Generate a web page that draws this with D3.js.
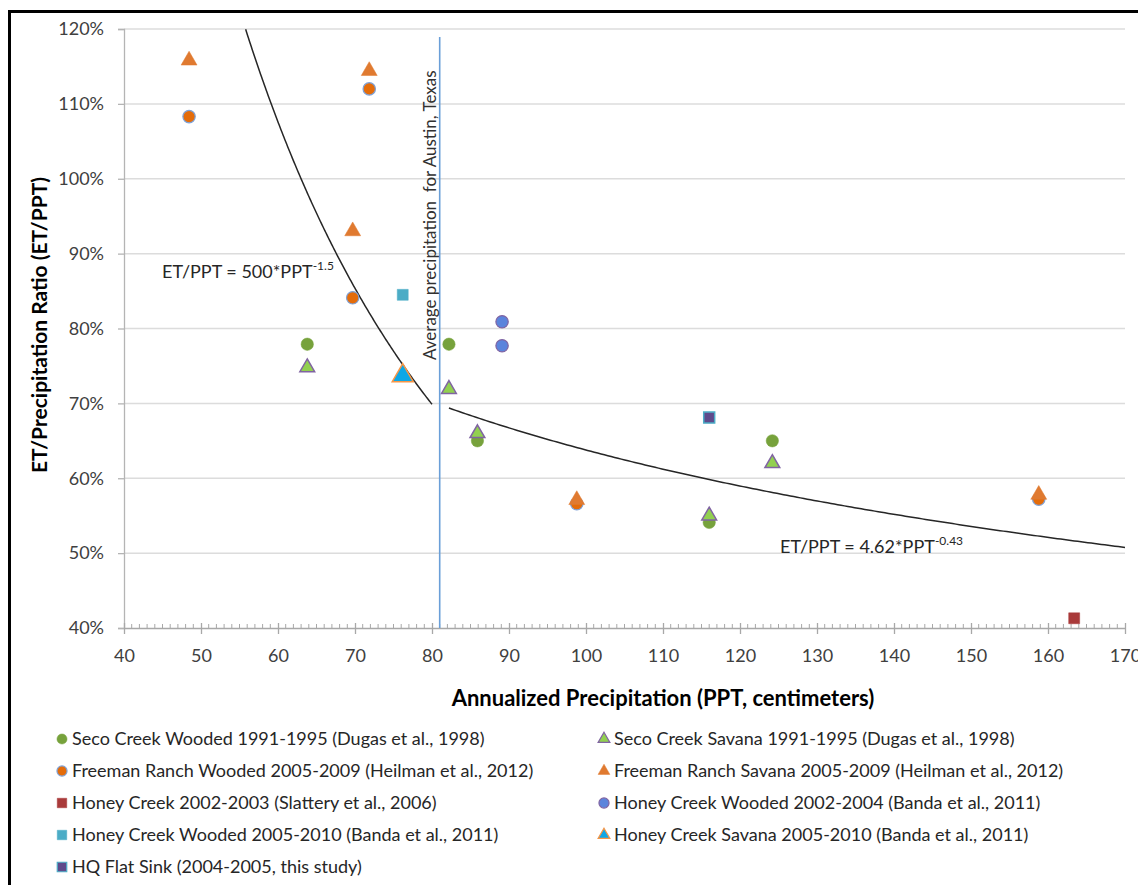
<!DOCTYPE html>
<html><head><meta charset="utf-8">
<script src="https://cdn.jsdelivr.net/npm/d3@7"></script>
<style>
body{margin:0;background:#fff;}
svg{display:block;}
text{font-family:Lato,'Open Sans',sans-serif;}
</style>
</head><body>
<svg id="c" width="1138" height="885"></svg>
<script>
// ---------- data ----------
const xTicks = [40,50,60,70,80,90,100,110,120,130,140,150,160,170];
const yTicks = [40,50,60,70,80,90,100,110,120];
const yTickLabels = ["40%","50%","60%","70%","80%","90%","100%","110%","120%"];

const seriesNames = [
  "Seco Creek Wooded 1991-1995 (Dugas et al., 1998)",
  "Seco Creek Savana 1991-1995 (Dugas et al., 1998)",
  "Freeman Ranch Wooded 2005-2009 (Heilman et al., 2012)",
  "Freeman Ranch Savana 2005-2009 (Heilman et al., 2012)",
  "Honey Creek 2002-2003 (Slattery et al., 2006)",
  "Honey Creek Wooded 2002-2004 (Banda et al., 2011)",
  "Honey Creek Wooded 2005-2010 (Banda et al., 2011)",
  "Honey Creek Savana 2005-2010 (Banda et al., 2011)",
  "HQ Flat Sink (2004-2005, this study)"
];
const secoWoodedX   = [63.8, 82.2, 85.9, 116.0, 124.2];
const secoWoodedY   = [77.9, 77.9, 65.0, 54.1, 65.0];
const secoSavanaX   = [63.8, 82.2, 85.9, 116.0, 124.2];
const secoSavanaY   = [74.8, 71.9, 66.0, 55.0, 62.0];
const freemanWoodedX = [48.45, 69.7, 71.85, 98.8, 158.8];
const freemanWoodedY = [108.3, 84.1, 112.0, 56.6, 57.2];
const freemanSavanaX = [48.45, 69.7, 71.85, 98.8, 158.8];
const freemanSavanaY = [115.8, 93.0, 114.4, 57.1, 57.8];
const honey0203X = [163.4];
const honey0203Y = [41.3];
const honeyWooded0204X = [89.1, 89.1];
const honeyWooded0204Y = [80.9, 77.7];
const honeyWooded0510X = [76.2];
const honeyWooded0510Y = [84.5];
const honeySavana0510X = [76.2];
const honeySavana0510Y = [73.7];
const hqFlatX = [116.0];
const hqFlatY = [68.1];

// trendlines (from the equations printed on the chart), ET/PPT in %
const trend1 = {coef: 50000, exp: -1.5, from: 55.8, to: 80};
const trend2 = {coef: 462, exp: -0.43, from: 82.2, to: 170};
const austinPPT = 81;

// ---------- styles ----------
const styles = [
  {shape:d3.symbolCircle,   size:120, fill:"#77a23c", stroke:"#77a23c", sw:0.5},
  {shape:d3.symbolTriangle, size:95,  fill:"#92d050", stroke:"#8064a2", sw:1.5},
  {shape:d3.symbolCircle,   size:120, fill:"#e46c0a", stroke:"#7ea1d6", sw:1.2},
  {shape:d3.symbolTriangle, size:110, fill:"#e07a30", stroke:"#e07a30", sw:0.5},
  {shape:d3.symbolSquare,   size:120, fill:"#a93a3a", stroke:"#a93a3a", sw:0.5},
  {shape:d3.symbolCircle,   size:120, fill:"#5b84dc", stroke:"#8064a2", sw:1.2},
  {shape:d3.symbolSquare,   size:120, fill:"#4bacc6", stroke:"#4bacc6", sw:0.5},
  {shape:d3.symbolTriangle, size:190, fill:"#0ea7e6", stroke:"#f79646", sw:1.5},
  {shape:d3.symbolSquare,   size:120, fill:"#5f4a8b", stroke:"#4bacc6", sw:1.5}
];
const legendSizes = [80, 60, 80, 60, 90, 80, 90, 60, 90];

const seriesX = [secoWoodedX, secoSavanaX, freemanWoodedX, freemanSavanaX, honey0203X, honeyWooded0204X, honeyWooded0510X, honeySavana0510X, hqFlatX];
const seriesY = [secoWoodedY, secoSavanaY, freemanWoodedY, freemanSavanaY, honey0203Y, honeyWooded0204Y, honeyWooded0510Y, honeySavana0510Y, hqFlatY];

// ---------- layout ----------
const svg = d3.select("#c");
const x = d3.scaleLinear().domain([40,170]).range([124,1125]);
const y = d3.scaleLinear().domain([40,120]).range([628,29]);
const tickColor = "#404040";
const FONT = "Lato,'Open Sans',sans-serif";

// frame
svg.append("line").attr("x1",9.5).attr("x2",9.5).attr("y1",10).attr("y2",885).attr("stroke","#000").attr("stroke-width",3);
svg.append("line").attr("x1",8).attr("x2",1138).attr("y1",11.5).attr("y2",11.5).attr("stroke","#000").attr("stroke-width",3);

// gridlines
svg.append("g").selectAll("line").data(yTicks.filter(d=>d>40)).join("line")
  .attr("x1",x(40)).attr("x2",x(170)).attr("y1",d=>y(d)).attr("y2",d=>y(d))
  .attr("stroke","#dcdcdc").attr("stroke-width",1.5);

// y axis
const yAxis = svg.append("g").attr("transform",`translate(${x(40)},0)`)
  .call(d3.axisLeft(y).tickValues(yTicks).tickFormat((d,i)=>yTickLabels[i]).tickSize(6).tickPadding(14));
yAxis.select(".domain").attr("stroke","#b4b4b4").attr("stroke-width",1.3);
yAxis.selectAll(".tick line").attr("stroke","#b4b4b4").attr("stroke-width",1.3);
yAxis.selectAll("text").attr("font-size",18).attr("fill",tickColor).style("font-family",FONT);

// x axis minor ticks
const minor = d3.range(40,171,1).filter(d=>d%10!==0);
svg.append("g").selectAll("line").data(minor).join("line")
  .attr("x1",d=>x(d)).attr("x2",d=>x(d)).attr("y1",y(40)-4).attr("y2",y(40))
  .attr("stroke","#a8a8a8").attr("stroke-width",1);
// x axis
const xAxis = svg.append("g").attr("transform",`translate(0,${y(40)})`)
  .call(d3.axisBottom(x).tickValues(xTicks).tickFormat(d3.format("d")).tickSizeInner(6).tickSizeOuter(0).tickPadding(15));
xAxis.select(".domain").attr("stroke","#a8a8a8").attr("stroke-width",1.3);
xAxis.selectAll(".tick line").attr("stroke","#a8a8a8").attr("stroke-width",1.3).attr("y1",-5);
xAxis.selectAll("text").attr("font-size",18).attr("fill",tickColor).style("font-family",FONT);

// Austin line
svg.append("line").attr("x1",x(austinPPT)).attr("x2",x(austinPPT)).attr("y1",37).attr("y2",y(40))
  .attr("stroke","#6a9fd8").attr("stroke-width",1.6);
svg.append("text").attr("transform",`translate(${x(austinPPT)-4},360) rotate(-90)`)
  .attr("font-size",17).attr("fill","#303030").attr("xml:space","preserve")
  .text("Average precipitation  for Austin, Texas");

// trendlines
const line = d3.line().x(d=>x(d[0])).y(d=>y(d[1]));
[trend1, trend2].forEach(t=>{
  const pts = d3.range(0,201).map(i=>{const p=t.from+(t.to-t.from)*i/200; return [p, t.coef*Math.pow(p,t.exp)];});
  svg.append("path").attr("d",line(pts)).attr("fill","none").attr("stroke","#262626").attr("stroke-width",1.5);
});

// equations
function eq(xp, yp, main, sup){
  const t = svg.append("text").attr("x",xp).attr("y",yp).attr("font-size",18).attr("fill","#262626");
  t.append("tspan").text(main);
  t.append("tspan").attr("font-size",12).attr("dy",-8).text(sup);
}
eq(162, 278, "ET/PPT = 500*PPT", "-1.5");
eq(780, 553, "ET/PPT = 4.62*PPT", "-0.43");

// points
const pg = svg.append("g");
seriesX.forEach((xs,si)=>{
  const st = styles[si];
  pg.append("g").selectAll("path").data(xs.map((v,i)=>[v,seriesY[si][i]])).join("path")
    .attr("transform",d=>`translate(${x(d[0])},${y(d[1])})`)
    .attr("d",d3.symbol().type(st.shape).size(st.size))
    .attr("fill",st.fill).attr("stroke",st.stroke).attr("stroke-width",st.sw);
});

// axis titles
svg.append("text").attr("transform","translate(47,325) rotate(-90)").attr("text-anchor","middle")
  .attr("font-size",21).attr("font-weight","bold").attr("fill","#000").text("ET/Precipitation Ratio (ET/PPT)");
svg.append("text").attr("x",663).attr("y",706).attr("text-anchor","middle")
  .attr("font-size",22).attr("font-weight","bold").attr("fill","#000").text("Annualized Precipitation (PPT, centimeters)");

// legend
const rowsY = [739, 771, 803, 835, 867];
const lg = svg.append("g");
seriesNames.forEach((name,i)=>{
  const col = i%2, row = Math.floor(i/2);
  const mx = col===0 ? 62 : 604, tx = col===0 ? 72 : 614;
  const st = styles[i];
  lg.append("path").attr("transform",`translate(${mx},${rowsY[row]})`)
    .attr("d",d3.symbol().type(st.shape).size(legendSizes[i]))
    .attr("fill",st.fill).attr("stroke",st.stroke).attr("stroke-width",Math.min(st.sw,1.2));
  lg.append("text").attr("x",tx).attr("y",rowsY[row]).attr("dy","0.35em")
    .attr("font-size",18).attr("fill","#262626").text(name);
});
</script>
</body></html>
